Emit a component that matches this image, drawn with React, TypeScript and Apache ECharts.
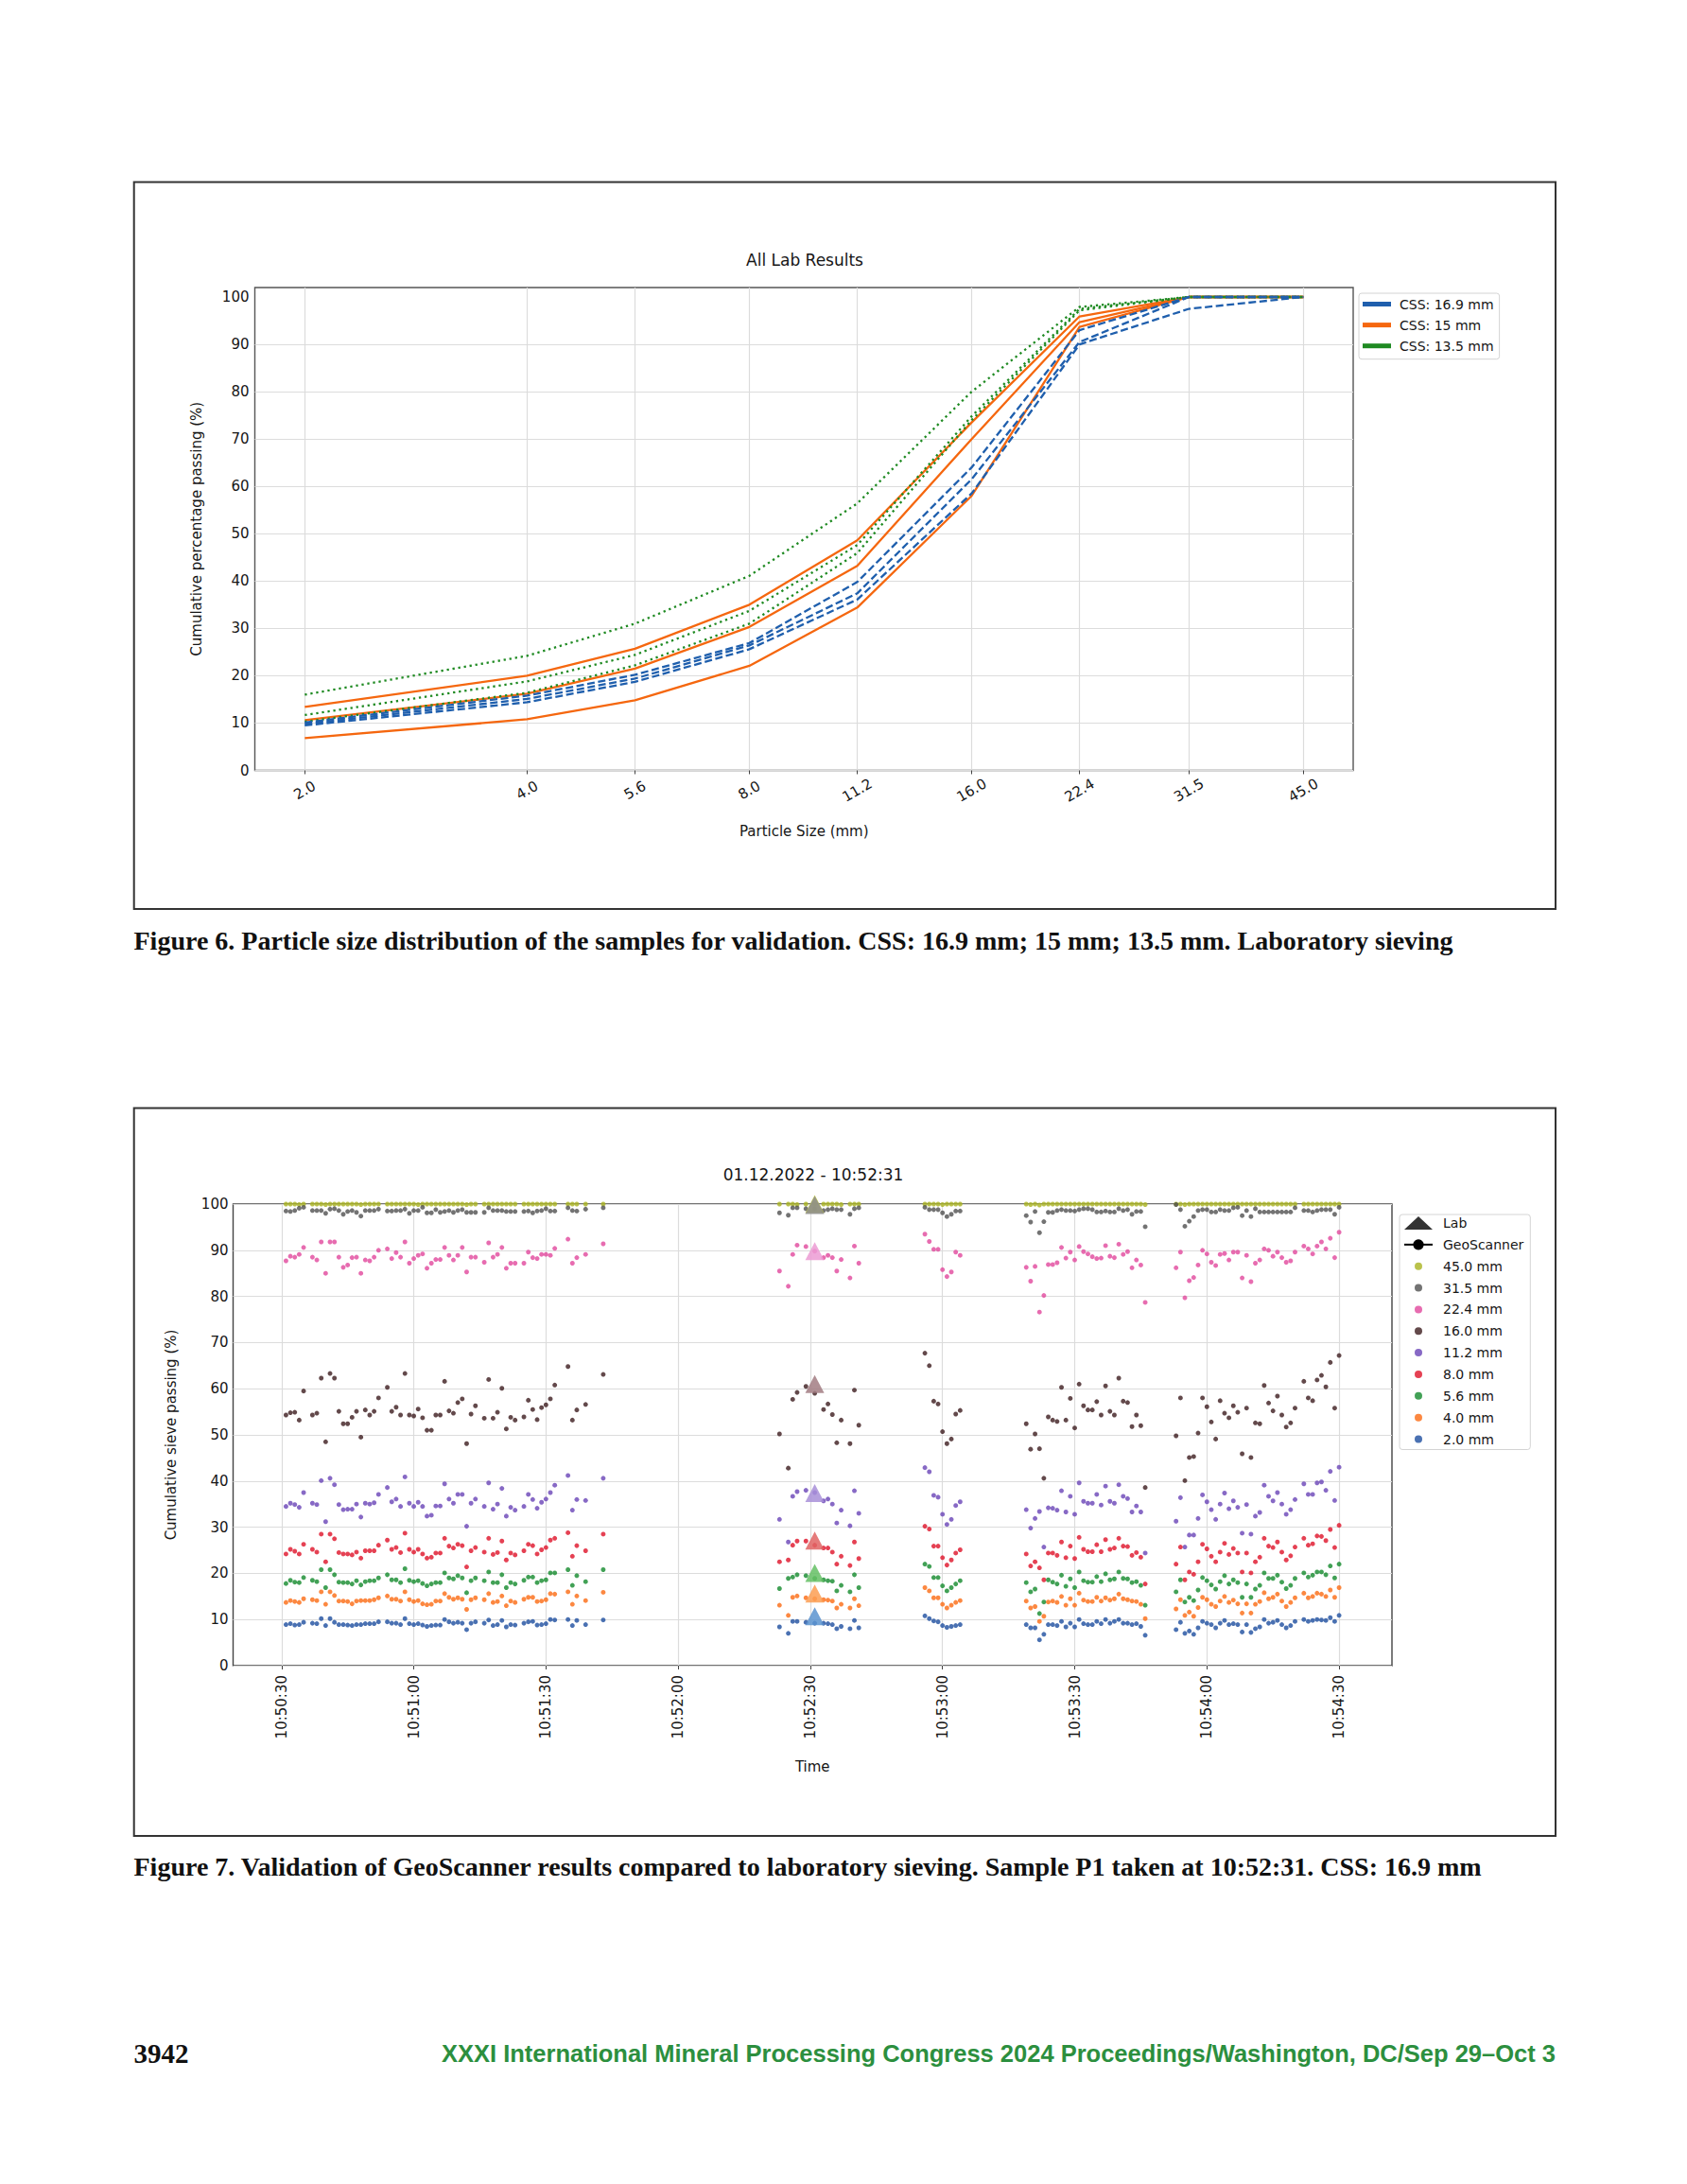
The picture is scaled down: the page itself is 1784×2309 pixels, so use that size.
import React, { useEffect, useRef } from 'react';
import * as echarts from 'echarts';

// ---------------- Figure 6 data ----------------
const SIEVE_SIZES = [2.0, 4.0, 5.6, 8.0, 11.2, 16.0, 22.4, 31.5, 45.0];
const PCT_TICKS = [0, 10, 20, 30, 40, 50, 60, 70, 80, 90, 100];

const CSS169_A = [10.1, 15.8, 20.2, 26.9, 39.8, 64.0, 93.0, 100, 100];
const CSS169_B = [9.8, 15.1, 19.4, 26.4, 37.4, 61.5, 90.5, 100, 100];
const CSS169_C = [9.5, 14.4, 18.7, 25.6, 36.1, 58.5, 90.0, 97.5, 100];
const CSS15_A = [13.4, 20.0, 25.7, 35.0, 48.6, 73.5, 95.9, 100, 100];
const CSS15_B = [10.6, 16.2, 21.5, 30.3, 43.2, 70.0, 94.7, 100, 100];
const CSS15_C = [6.8, 10.8, 14.8, 22.1, 34.4, 58.0, 93.7, 100, 100];
const CSS135_A = [16.0, 24.2, 31.0, 41.1, 56.4, 80.0, 97.9, 100, 100];
const CSS135_B = [11.7, 18.8, 24.4, 33.7, 47.6, 74.8, 97.5, 100, 100];
const CSS135_C = [10.3, 16.4, 22.2, 31.0, 45.9, 74.0, 97.2, 100, 100];

// ---------------- Figure 7 data ----------------
// seconds after 10:50:30
const TIME_TICKS = [0, 30, 60, 90, 120, 150, 180, 210, 240];
const SCAN_TIMES = [
  1, 2, 3, 4, 5, 7, 8, 9, 10, 11, 12, 13, 14, 15, 16, 17, 18, 19, 20, 21, 22, 24, 25, 26, 27, 28, 29, 30, 31, 32, 33, 34, 35,
  36, 37, 38, 39, 40, 41, 42, 43, 44, 46, 47, 48, 49, 50, 51, 52, 53, 55, 56, 57, 58, 59, 60, 61, 62, 65, 66, 67, 69, 73,
  113, 115, 116, 117, 119, 121, 123, 124, 125, 126, 127, 129, 130, 131,
  146, 147, 148, 149, 150, 151, 152, 153, 154,
  169, 170, 171, 172, 173, 174, 175, 176, 177, 178, 179, 180, 181, 182, 183, 184, 185, 186, 187, 188, 189, 190, 191, 192,
  193, 194, 195, 196,
  203, 204, 205, 206, 207, 208, 209, 210, 211, 212, 213, 214, 215, 216, 217, 218, 219, 220, 221, 222, 223, 224, 225, 226,
  227, 228, 229, 230, 232, 233, 234, 235, 236, 237, 238, 239, 240,
];

const P45_0 = [
  100, 100, 100, 99.9, 100, 100, 100, 100, 99.9, 100, 100, 100, 100, 100, 100, 100, 99.9, 100, 100, 100, 100,
  100, 100, 100, 100, 100, 100, 100, 99.9, 100, 100, 100, 100, 100, 100, 100, 100, 100, 100, 99.9, 100, 100,
  100, 100, 100, 100, 100, 100, 100, 100, 100, 100, 100, 100, 100, 100, 100, 100, 100, 100, 100, 100, 100,
  100, 100, 100, 99.9, 100, 100, 100, 100, 100, 100, 99.9, 100, 100, 100,
  100, 100, 100, 100, 99.9, 100, 100, 100, 100,
  100, 99.9, 100, 99.8, 100, 100, 100, 100, 100, 100, 100, 100, 100, 100, 100, 100, 100, 100, 100, 100, 100, 100, 100, 100,
  100, 100, 100, 99.9,
  100, 100, 99.9, 100, 100, 100, 100, 100, 100, 100, 100, 100, 100, 100, 100, 100, 100, 100, 100, 100, 100, 100, 100, 100,
  100, 100, 100, 100, 100, 100, 100, 100, 100, 100, 100, 100, 100,
];
const P31_5 = [
  98.5, 98.4, 98.6, 99.1, 99.3, 98.6, 98.6, 98.6, 98.0, 98.9, 99.0, 98.6, 97.8, 98.4, 98.6, 98.2, 97.4, 98.6, 98.6, 98.6, 98.9,
  98.5, 98.5, 98.6, 98.6, 98.9, 98.0, 98.6, 98.6, 99.3, 98.1, 98.1, 98.8, 98.2, 98.4, 98.6, 98.2, 98.6, 98.8, 98.2, 98.2, 98.2,
  98.2, 99.2, 98.6, 98.6, 98.6, 98.4, 98.4, 98.4, 98.4, 98.5, 98.1, 98.5, 98.6, 99.0, 98.5, 98.5, 99.2, 98.6, 98.5, 98.9, 99.2,
  98.1, 97.6, 99.2, 99.2, 99.0, 99.0, 98.6, 98.8, 99.0, 98.8, 98.8, 97.8, 99.0, 99.2,
  99.3, 98.8, 98.8, 98.8, 98.1, 97.3, 97.8, 98.5, 98.5,
  97.5, 96.1, 98.4, 93.8, 96.2, 98.2, 98.2, 98.6, 98.8, 98.6, 98.6, 98.5, 98.8, 99.0, 99.0, 98.8, 98.3, 98.3, 98.5, 98.3,
  98.3, 99.0, 98.6, 98.8, 97.8, 98.4, 98.4, 95.1,
  99.9, 98.8, 95.2, 96.3, 97.3, 98.6, 98.8, 98.8, 98.3, 98.3, 98.8, 98.6, 98.6, 99.2, 99.3, 97.5, 98.6, 97.3, 99.0, 98.3,
  98.3, 98.3, 98.3, 98.3, 98.3, 98.3, 98.3, 99.2, 98.6, 98.6, 98.3, 98.6, 98.8, 98.8, 98.8, 97.8, 99.3,
];
const P22_4 = [
  87.7, 88.7, 88.5, 89.1, 90.6, 88.5, 87.9, 91.8, 85.0, 91.8, 91.8, 88.5, 86.3, 86.8, 88.4, 88.5, 85.0, 87.9, 87.7, 88.5, 90.0,
  90.3, 88.2, 89.5, 88.5, 91.8, 87.2, 88.2, 88.9, 89.2, 86.1, 87.2, 88.0, 88.0, 90.6, 88.9, 87.9, 88.9, 90.6, 85.3, 88.5, 88.5,
  87.4, 91.6, 88.5, 89.1, 90.6, 86.1, 87.2, 87.2, 87.2, 89.6, 88.4, 88.2, 89.1, 89.1, 88.9, 90.4, 92.4, 87.2, 88.4, 89.1, 91.4,
  85.5, 82.2, 89.1, 91.1, 90.8, 89.8, 88.4, 88.9, 88.4, 85.5, 88.0, 84.0, 90.9, 87.2,
  93.5, 91.9, 90.2, 90.2, 85.8, 84.3, 85.3, 89.6, 88.9,
  86.3, 83.3, 86.5, 76.6, 80.2, 86.9, 86.9, 87.3, 90.6, 88.3, 89.6, 87.9, 90.8, 89.7, 89.2, 88.6, 88.2, 88.3, 91.0, 88.7,
  88.4, 91.3, 89.1, 89.7, 86.2, 87.9, 86.8, 78.7,
  86.2, 89.6, 79.7, 83.4, 84.1, 86.8, 90.0, 89.2, 87.4, 86.7, 89.1, 89.3, 87.9, 89.6, 89.6, 84.0, 88.9, 83.2, 87.2, 87.9,
  90.3, 90.0, 88.7, 89.6, 88.4, 87.4, 87.7, 89.6, 90.9, 90.3, 89.2, 90.9, 91.8, 90.3, 92.6, 88.4, 93.9,
];
const P16_0 = [
  54.3, 54.8, 54.9, 53.2, 59.5, 54.3, 54.7, 62.3, 48.5, 63.3, 62.3, 55.1, 52.4, 52.4, 53.8, 55.1, 49.5, 55.4, 54.3, 55.1, 58.0,
  60.3, 55.1, 56.0, 54.3, 63.3, 54.3, 54.1, 55.6, 53.7, 51.0, 51.0, 54.3, 54.3, 61.6, 55.2, 54.7, 57.0, 57.8, 48.1, 54.5, 56.3,
  53.6, 62.0, 53.6, 54.9, 60.1, 51.3, 53.8, 53.2, 53.9, 57.5, 55.5, 53.3, 55.9, 56.5, 57.8, 60.8, 64.8, 53.2, 55.4, 56.6, 63.1,
  50.2, 42.8, 57.7, 59.2, 60.5, 59.0, 55.5, 56.7, 54.4, 48.3, 53.2, 48.1, 59.7, 52.1,
  67.7, 65.0, 57.3, 56.7, 50.7, 48.1, 49.1, 54.5, 55.3,
  52.4, 46.9, 50.2, 47.0, 40.6, 53.9, 53.2, 52.9, 60.3, 53.2, 57.9, 51.5, 61.0, 56.3, 55.4, 55.4, 57.2, 54.3, 60.6, 55.1,
  54.3, 62.3, 57.3, 57.0, 51.8, 54.3, 52.0, 38.6,
  49.8, 58.0, 40.1, 45.1, 45.3, 50.4, 58.0, 56.1, 52.8, 49.1, 57.4, 54.7, 53.7, 56.3, 54.9, 45.9, 55.8, 45.1, 52.6, 52.4,
  60.7, 56.9, 55.2, 58.4, 54.3, 51.7, 52.6, 55.8, 61.6, 58.0, 57.4, 61.9, 62.9, 60.4, 65.7, 55.8, 67.2,
];
const P11_2 = [
  34.5, 35.2, 34.9, 34.3, 37.5, 35.2, 34.9, 40.1, 31.2, 40.6, 39.2, 34.9, 33.8, 33.9, 33.9, 35.0, 32.2, 35.2, 35.0, 35.3, 37.1,
  38.6, 35.5, 36.1, 34.5, 40.9, 35.2, 34.5, 35.4, 34.5, 32.4, 32.6, 34.6, 34.6, 39.4, 36.1, 35.2, 37.1, 37.1, 30.2, 35.2, 36.1,
  34.5, 39.6, 33.9, 35.0, 38.4, 32.4, 34.3, 33.7, 34.5, 37.1, 36.0, 34.1, 35.4, 36.1, 37.5, 39.1, 41.2, 33.7, 36.0, 35.8, 40.6,
  31.7, 26.8, 36.7, 37.7, 38.0, 37.5, 35.7, 36.1, 35.0, 30.9, 33.7, 30.3, 37.9, 33.0,
  42.9, 42.0, 36.9, 36.5, 32.8, 30.6, 31.7, 34.7, 35.5,
  33.8, 29.8, 31.9, 33.4, 25.7, 34.2, 34.1, 33.7, 37.9, 33.3, 36.7, 32.8, 39.6, 35.6, 35.2, 35.2, 37.1, 34.8, 38.9, 35.6,
  35.2, 39.2, 36.7, 36.2, 33.3, 34.6, 33.3, 24.4,
  31.3, 36.4, 25.7, 28.3, 28.3, 31.9, 37.0, 35.5, 33.8, 31.7, 35.0, 37.4, 34.0, 35.7, 34.3, 28.7, 34.9, 28.5, 32.4, 33.2,
  39.1, 36.7, 35.7, 37.5, 35.0, 32.8, 33.8, 36.0, 39.4, 37.1, 37.1, 39.6, 39.8, 38.0, 42.1, 35.8, 43.0,
];
const P8_0 = [
  24.2, 25.2, 24.8, 24.2, 26.3, 25.2, 24.6, 28.5, 22.5, 28.5, 27.5, 24.5, 24.2, 24.2, 24.0, 24.6, 23.3, 24.9, 24.9, 24.9, 26.1,
  27.2, 25.2, 25.6, 24.5, 28.7, 25.2, 24.6, 25.2, 24.2, 23.3, 23.5, 24.4, 24.4, 27.6, 25.9, 25.5, 26.3, 26.0, 21.4, 24.9, 25.6,
  24.6, 27.6, 24.1, 24.5, 27.0, 22.9, 24.4, 24.0, 24.9, 26.3, 26.0, 24.2, 25.1, 25.6, 27.2, 27.6, 28.8, 23.7, 26.0, 24.9, 28.5,
  22.5, 22.9, 26.1, 27.0, 27.0, 26.1, 25.5, 25.5, 24.6, 22.0, 23.7, 21.7, 26.8, 23.2,
  30.2, 29.6, 25.9, 25.9, 23.4, 21.8, 22.9, 24.4, 25.1,
  24.2, 21.6, 22.5, 21.2, 18.6, 24.4, 24.4, 23.9, 26.8, 23.4, 25.9, 23.2, 27.8, 25.2, 24.7, 24.7, 26.2, 24.7, 27.3, 25.2,
  25.5, 27.6, 25.9, 25.8, 23.9, 24.5, 23.5, 17.7,
  22.0, 25.7, 18.6, 20.3, 19.8, 22.5, 26.3, 25.3, 23.7, 22.5, 24.6, 26.5, 24.1, 25.4, 24.4, 20.3, 24.4, 20.1, 22.5, 23.5,
  27.6, 25.9, 25.6, 26.8, 24.6, 22.9, 23.8, 25.7, 27.6, 26.1, 26.4, 28.1, 28.0, 27.1, 29.5, 25.6, 30.4,
];
const P5_6 = [
  17.8, 18.5, 18.1, 18.0, 19.1, 18.5, 18.2, 20.8, 16.9, 20.8, 19.7, 18.1, 18.0, 18.0, 17.7, 18.4, 17.5, 18.2, 18.4, 18.4, 19.0,
  19.7, 18.6, 18.6, 18.0, 21.0, 18.5, 18.2, 18.4, 17.8, 17.3, 17.7, 18.0, 18.0, 20.1, 19.0, 18.8, 19.5, 19.0, 15.8, 18.4, 19.0,
  18.4, 20.3, 18.0, 18.0, 19.7, 16.9, 18.0, 17.7, 18.5, 19.2, 19.2, 18.0, 18.4, 18.6, 20.1, 20.1, 20.8, 17.4, 19.5, 18.2, 20.8,
  16.7, 18.9, 19.2, 19.7, 19.5, 18.9, 18.6, 18.4, 18.3, 16.2, 17.4, 16.0, 19.7, 16.9,
  22.0, 21.5, 19.1, 19.1, 17.3, 16.2, 16.9, 17.7, 18.4,
  18.0, 16.0, 16.6, 11.3, 13.8, 18.6, 18.1, 17.7, 19.6, 17.2, 18.8, 16.9, 20.3, 18.4, 18.1, 18.1, 19.3, 18.2, 19.9, 18.6,
  18.8, 20.3, 18.9, 18.8, 18.0, 18.2, 17.4, 13.1,
  16.0, 18.6, 13.8, 14.8, 14.1, 16.4, 19.1, 18.4, 17.5, 16.6, 18.2, 19.5, 17.7, 18.6, 18.0, 14.8, 17.7, 14.8, 16.6, 17.4,
  20.1, 18.9, 18.9, 19.6, 18.1, 16.7, 17.4, 18.9, 20.1, 19.2, 19.6, 20.3, 20.3, 19.7, 21.6, 19.0, 22.0,
];
const P4_0 = [
  13.7, 14.1, 13.9, 13.7, 14.5, 14.3, 14.1, 16.0, 13.3, 16.0, 15.2, 14.0, 14.0, 13.9, 13.4, 14.0, 14.1, 14.1, 14.1, 14.3, 14.7,
  15.1, 14.4, 14.4, 14.0, 16.0, 14.3, 13.9, 14.1, 13.4, 13.2, 13.3, 14.0, 14.0, 15.6, 14.8, 14.4, 14.7, 14.4, 12.2, 14.3, 14.7,
  14.3, 15.6, 13.7, 13.9, 15.1, 13.0, 14.0, 13.7, 14.4, 14.8, 14.8, 13.9, 14.0, 14.3, 15.6, 15.5, 16.0, 13.3, 15.1, 14.1, 15.9,
  13.1, 10.9, 14.8, 15.1, 14.7, 14.5, 14.3, 14.2, 14.0, 12.5, 13.3, 12.5, 14.5, 13.0,
  16.9, 16.2, 14.7, 14.7, 13.3, 12.5, 13.1, 13.7, 14.1,
  14.0, 12.5, 12.8, 9.6, 10.7, 13.8, 14.0, 13.7, 15.0, 13.1, 14.5, 13.1, 15.7, 14.2, 13.9, 13.9, 14.8, 14.0, 14.7, 14.2,
  14.5, 15.5, 14.5, 14.3, 14.0, 13.9, 13.3, 10.2,
  12.3, 14.3, 10.9, 11.6, 10.7, 12.6, 14.8, 14.3, 13.3, 12.8, 14.0, 15.0, 13.7, 14.2, 13.4, 11.4, 13.4, 11.4, 13.3, 13.9,
  15.8, 14.5, 14.8, 15.5, 14.0, 12.8, 13.7, 14.7, 15.7, 14.7, 15.0, 15.7, 15.5, 15.0, 16.4, 14.8, 16.9,
];
const P2_0 = [
  8.9, 9.1, 8.8, 8.9, 9.4, 9.2, 9.1, 10.2, 8.7, 10.2, 9.4, 8.9, 8.9, 8.8, 8.7, 8.9, 8.9, 9.1, 9.1, 9.1, 9.5,
  9.5, 9.2, 9.2, 8.9, 10.2, 9.1, 8.9, 9.1, 8.8, 8.5, 8.7, 8.8, 8.8, 10.0, 9.5, 9.2, 9.4, 9.2, 7.8, 9.2, 9.5,
  9.2, 9.9, 8.7, 8.9, 9.8, 8.4, 8.9, 8.8, 9.2, 9.5, 9.6, 8.8, 8.9, 9.1, 10.0, 9.9, 10.0, 8.7, 9.8, 8.9, 9.9,
  8.4, 7.0, 9.6, 9.6, 9.4, 9.2, 9.2, 9.1, 8.9, 8.0, 8.5, 8.0, 9.8, 8.2,
  10.8, 10.2, 9.7, 9.5, 8.7, 8.3, 8.5, 8.7, 8.9,
  8.9, 8.2, 8.2, 5.6, 6.8, 8.9, 8.9, 8.7, 9.6, 8.4, 9.2, 8.4, 10.0, 9.1, 8.9, 8.9, 9.6, 9.1, 10.0, 9.2,
  9.6, 10.0, 9.2, 9.2, 8.9, 9.1, 8.5, 6.6,
  7.8, 9.4, 7.0, 7.5, 6.8, 8.2, 9.6, 9.2, 8.9, 8.2, 9.2, 9.8, 8.9, 9.1, 8.9, 7.3, 8.9, 7.2, 8.0, 8.4,
  10.0, 9.2, 9.4, 9.8, 8.9, 8.2, 8.7, 9.6, 10.0, 9.6, 9.8, 10.0, 9.9, 9.8, 10.4, 9.6, 10.9,
];

const SCAN_NAMES = ['45.0 mm', '31.5 mm', '22.4 mm', '16.0 mm', '11.2 mm', '8.0 mm', '5.6 mm', '4.0 mm', '2.0 mm'];
const SCAN_VALUES = [P45_0, P31_5, P22_4, P16_0, P11_2, P8_0, P5_6, P4_0, P2_0];
const LAB_TIME = 121; // 10:52:31
const LAB_VALUES = [100, 99.8, 89.8, 61.0, 37.4, 27.1, 20.1, 15.6, 10.7];

// ---------------- styling ----------------
const FONT = 'DejaVu Sans';
const TXT = '#161616';
const GRID_LINE = '#dcdcdc';
const BLUE6 = '#1f5fad';
const ORANGE6 = '#f5670f';
const GREEN6 = '#1f8a22';
const SCAN_COLORS = ['#a9b31f', '#505050', '#e1479c', '#3c1b1e', '#6943b6', '#de1228', '#138a2c', '#fb6a12', '#1d4d9f'];
const LAB_COLORS = ['#bcc23c', '#8d8d8d', '#ec9bd3', '#a27c82', '#a88fd8', '#e06464', '#64c064', '#fb9d52', '#5b93cf'];

const TIME_BASE = 10 * 3600 + 50 * 60 + 30;
const pad2 = (n: number) => (n < 10 ? '0' + n : '' + n);
const fmtTime = (v: number) => {
  const s = Math.round(TIME_BASE + v);
  return `${Math.floor(s / 3600)}:${pad2(Math.floor((s % 3600) / 60))}:${pad2(s % 60)}`;
};
const fmtSize = (v: number) => Math.pow(2, v).toFixed(1);

function circleIcon(r: number, box: number) {
  const c = box / 2;
  return `path://M0 0M${box} ${box}M${c - r} ${c}a${r} ${r} 0 1 0 ${2 * r} 0a${r} ${r} 0 1 0 ${-2 * r} 0z`;
}

function buildOption(): any {
  const logX = SIEVE_SIZES.map((s) => Math.log2(s));
  const xPad = (logX[logX.length - 1] - logX[0]) * 0.05;

  const lineSeries = (name: string, vals: number[], color: string, dash: any) => ({
    type: 'line',
    name,
    xAxisIndex: 0,
    yAxisIndex: 0,
    symbol: 'none',
    showSymbol: false,
    data: vals.map((v, i) => [logX[i], v]),
    lineStyle: { color, width: 2.3, type: dash },
    itemStyle: { color },
    emphasis: { disabled: true },
  });

  const DASH = [8, 3.6];
  const DOT = [2.3, 3.8];

  const fig6Series = [
    lineSeries('CSS: 15 mm', CSS15_A, ORANGE6, 'solid'),
    lineSeries('CSS: 15 mm', CSS15_B, ORANGE6, 'solid'),
    lineSeries('CSS: 15 mm', CSS15_C, ORANGE6, 'solid'),
    lineSeries('CSS: 13.5 mm', CSS135_A, GREEN6, DOT),
    lineSeries('CSS: 13.5 mm', CSS135_B, GREEN6, DOT),
    lineSeries('CSS: 13.5 mm', CSS135_C, GREEN6, DOT),
    lineSeries('CSS: 16.9 mm', CSS169_A, BLUE6, DASH),
    lineSeries('CSS: 16.9 mm', CSS169_B, BLUE6, DASH),
    lineSeries('CSS: 16.9 mm', CSS169_C, BLUE6, DASH),
  ];

  const scanSeries = SCAN_NAMES.map((name, k) => ({
    type: 'scatter',
    name,
    xAxisIndex: 1,
    yAxisIndex: 1,
    symbol: 'circle',
    symbolSize: 5,
    itemStyle: { color: SCAN_COLORS[k] },
    data: SCAN_TIMES.map((t, i) => [t, SCAN_VALUES[k][i]]).filter((d) => d[1] !== undefined),
    emphasis: { disabled: true },
    z: 3,
  }));

  const labSeries = {
    type: 'scatter',
    name: 'Lab samples',
    xAxisIndex: 1,
    yAxisIndex: 1,
    symbol: 'triangle',
    symbolSize: [20, 19],
    data: LAB_VALUES.map((v, k) => ({ value: [LAB_TIME, v], itemStyle: { color: LAB_COLORS[k], opacity: 0.85 } })),
    emphasis: { disabled: true },
    z: 4,
  };

  const legendLab = {
    type: 'scatter', name: 'Lab', xAxisIndex: 1, yAxisIndex: 1, symbol: 'triangle', data: [],
    itemStyle: { color: '#000' },
  };
  const legendGeo = {
    type: 'line', name: 'GeoScanner', xAxisIndex: 1, yAxisIndex: 1, symbol: 'circle', symbolSize: 12, data: [],
    lineStyle: { color: '#000', width: 3 }, itemStyle: { color: '#000' },
  };

  const axisText = { fontFamily: FONT, fontSize: 15, color: TXT };

  return {
    animation: false,
    backgroundColor: '#ffffff',
    grid: [
      { left: 269.5, top: 304, width: 1161.5, height: 510.5, show: true, borderColor: '#555', borderWidth: 1.4, backgroundColor: 'transparent', outerBoundsMode: 'none' },
      { left: 246.5, top: 1273, width: 1225.5, height: 488, show: true, borderColor: '#444', borderWidth: 1.4, backgroundColor: 'transparent', outerBoundsMode: 'none' },
    ],
    xAxis: [
      {
        type: 'value', gridIndex: 0,
        min: logX[0] - xPad, max: logX[logX.length - 1] + xPad,
        axisLine: { show: false },
        axisTick: { show: true, length: 4, lineStyle: { color: '#444' }, customValues: logX },
        axisLabel: { ...axisText, customValues: logX, formatter: fmtSize, rotate: 30, align: 'center', verticalAlign: 'middle', margin: 21 },
        splitLine: { show: true, lineStyle: { color: GRID_LINE, width: 1.2 } },
        name: 'Particle Size (mm)', nameLocation: 'middle', nameGap: 57, nameMoveOverlap: false,
        nameTextStyle: { fontFamily: FONT, fontSize: 15, color: TXT },
      },
      {
        type: 'value', gridIndex: 1,
        min: -11, max: 252,
        axisLine: { show: false },
        axisTick: { show: true, length: 4, lineStyle: { color: '#444' }, customValues: TIME_TICKS },
        axisLabel: { ...axisText, customValues: TIME_TICKS, formatter: fmtTime, rotate: 90, margin: 10 },
        splitLine: { show: true, lineStyle: { color: GRID_LINE, width: 1.2 } },
        name: 'Time', nameLocation: 'middle', nameGap: 99, nameMoveOverlap: false,
        nameTextStyle: { fontFamily: FONT, fontSize: 15, color: TXT },
      },
    ],
    yAxis: [
      {
        type: 'value', gridIndex: 0, min: 0, max: 102,
        axisLine: { show: false },
        axisTick: { show: false, customValues: PCT_TICKS },
        axisLabel: { ...axisText, customValues: PCT_TICKS, margin: 6 },
        splitLine: { show: true, showMaxLine: false, lineStyle: { color: GRID_LINE, width: 1.2 } },
        name: 'Cumulative percentage passing (%)', nameLocation: 'middle', nameGap: 54, nameMoveOverlap: false,
        nameTextStyle: { fontFamily: FONT, fontSize: 15, color: TXT },
      },
      {
        type: 'value', gridIndex: 1, min: 0, max: 100, interval: 10,
        axisLine: { show: false },
        axisTick: { show: false },
        axisLabel: { ...axisText, margin: 5 },
        splitLine: { show: true, lineStyle: { color: GRID_LINE, width: 1.2 } },
        name: 'Cumulative sieve passing (%)', nameLocation: 'middle', nameGap: 58, nameMoveOverlap: false,
        nameTextStyle: { fontFamily: FONT, fontSize: 15, color: TXT },
      },
    ],
    legend: [
      {
        data: [
          { name: 'CSS: 16.9 mm', icon: 'rect' },
          { name: 'CSS: 15 mm', icon: 'rect' },
          { name: 'CSS: 13.5 mm', icon: 'rect' },
        ],
        orient: 'vertical', left: 1437, top: 310,
        itemWidth: 30, itemHeight: 5, itemGap: 8.1,
        padding: [4.5, 6, 7, 4],
        selectedMode: false,
        backgroundColor: '#ffffff', borderColor: '#d4d4d4', borderWidth: 1, borderRadius: 3,
        textStyle: { fontFamily: FONT, fontSize: 14, color: TXT, lineHeight: 14, padding: [0, 0, 0, 4] },
      },
      {
        data: [
          { name: 'Lab', icon: 'triangle' },
          { name: 'GeoScanner' },
          ...SCAN_NAMES.map((n) => ({ name: n, icon: circleIcon(4, 14) })),
        ],
        orient: 'vertical', left: 1480, top: 1284,
        itemWidth: 30, itemHeight: 14, itemGap: 8.85,
        padding: [2, 7, 4, 4],
        selectedMode: false,
        backgroundColor: '#ffffff', borderColor: '#d4d4d4', borderWidth: 1, borderRadius: 3,
        textStyle: { fontFamily: FONT, fontSize: 14, color: TXT, lineHeight: 14, padding: [0, 0, 0, 6] },
      },
    ],
    series: [...fig6Series, ...scanSeries, labSeries, legendLab, legendGeo],
    graphic: {
      elements: [
        { type: 'rect', shape: { x: 141.7, y: 192.6, width: 1503.3, height: 768.4 }, style: { fill: 'none', stroke: '#333', lineWidth: 2 }, silent: true },
        { type: 'rect', shape: { x: 141.7, y: 1171.5, width: 1503.3, height: 769.5 }, style: { fill: 'none', stroke: '#333', lineWidth: 2 }, silent: true },
        { type: 'text', x: 851, y: 274.5, style: { text: 'All Lab Results', fontFamily: FONT, fontSize: 17, fill: TXT, align: 'center', verticalAlign: 'middle', textAlign: 'center', textVerticalAlign: 'middle' }, silent: true },
        { type: 'text', x: 860, y: 1242, style: { text: '01.12.2022 - 10:52:31', fontFamily: FONT, fontSize: 17, fill: TXT, align: 'center', verticalAlign: 'middle', textAlign: 'center', textVerticalAlign: 'middle' }, silent: true },
        { type: 'text', x: 141.5, y: 994, style: { text: 'Figure 6. Particle size distribution of the samples for validation. CSS: 16.9 mm; 15 mm; 13.5 mm. Laboratory sieving', fontFamily: 'Liberation Serif', fontWeight: 'bold', fontSize: 28, fill: '#111', align: 'left', verticalAlign: 'middle', textAlign: 'left', textVerticalAlign: 'middle' }, silent: true },
        { type: 'text', x: 141.5, y: 1973, style: { text: 'Figure 7. Validation of GeoScanner results compared to laboratory sieving. Sample P1 taken at 10:52:31. CSS: 16.9 mm', fontFamily: 'Liberation Serif', fontWeight: 'bold', fontSize: 28, fill: '#111', align: 'left', verticalAlign: 'middle', textAlign: 'left', textVerticalAlign: 'middle' }, silent: true },
        { type: 'text', x: 141.5, y: 2171, style: { text: '3942', fontFamily: 'Liberation Serif', fontWeight: 'bold', fontSize: 29, fill: '#111', align: 'left', verticalAlign: 'middle', textAlign: 'left', textVerticalAlign: 'middle' }, silent: true },
        { type: 'text', x: 1645, y: 2171, style: { text: 'XXXI International Mineral Processing Congress 2024 Proceedings/Washington, DC/Sep 29–Oct 3', fontFamily: 'Liberation Sans', fontWeight: 'bold', fontSize: 25.5, fill: '#2c8f3e', align: 'right', verticalAlign: 'middle', textAlign: 'right', textVerticalAlign: 'middle' }, silent: true },
      ],
    },
  };
}

export default function App() {
  const ref = useRef<HTMLDivElement>(null);
  useEffect(() => {
    if (!ref.current) return;
    const chart = echarts.init(ref.current, null, { renderer: 'svg' });
    chart.setOption(buildOption());
    return () => chart.dispose();
  }, []);
  return (
    <div
      ref={ref}
      style={{ position: 'absolute', left: 0, top: 0, width: 1784, height: 2309, background: '#ffffff' }}
    />
  );
}
